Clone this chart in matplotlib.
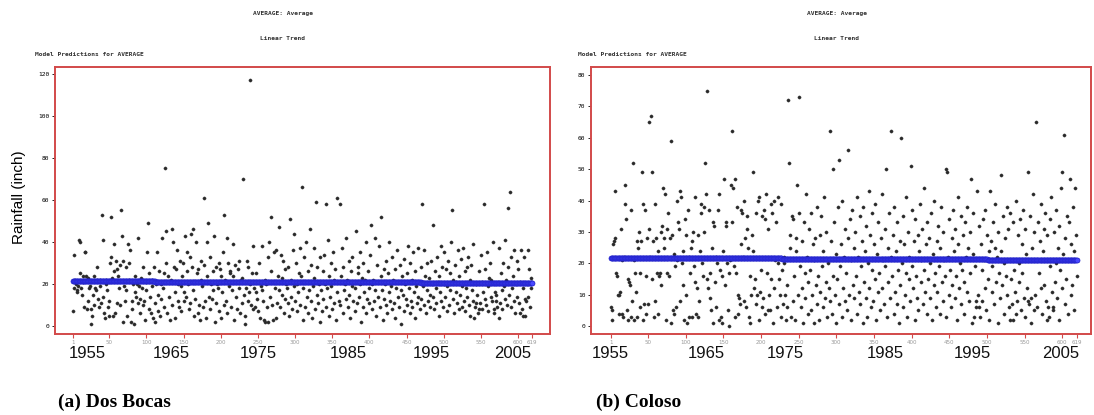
import numpy as np
import matplotlib
matplotlib.use("Agg")
import matplotlib.pyplot as plt
import matplotlib.transforms as mtransforms

# monthly average rainfall, Jan 1955 .. Jul 2006 (619 months)
dos_bocas = [
    7, 18, 34, 22, 20, 17, 16, 19, 41, 40, 25, 18,
    15, 24, 21, 9, 35, 35, 24, 8, 23, 12, 18, 19,
    8, 1, 5, 15, 10, 24, 18, 17, 22, 28, 13, 9,
    19, 22, 11, 53, 41, 14, 6, 4, 20, 22, 17, 9,
    5, 12, 30, 33, 52, 23, 5, 26, 39, 6, 31, 27,
    11, 24, 18, 29, 10, 55, 43, 31, 2, 19, 12, 28,
    17, 5, 39, 22, 30, 36, 2, 8, 12, 20, 1, 24,
    16, 14, 20, 11, 42, 19, 6, 13, 23, 18, 10, 28,
    12, 3, 21, 17, 35, 49, 8, 25, 14, 6, 19, 22,
    4, 28, 11, 2, 20, 35, 7, 15, 26, 5, 13, 20,
    42, 18, 9, 25, 75, 45, 30, 6, 24, 14, 21, 3,
    22, 46, 10, 40, 28, 16, 4, 27, 36, 12, 20, 9,
    31, 19, 7, 24, 30, 16, 12, 43, 14, 26, 35, 20,
    8, 33, 11, 44, 28, 17, 46, 5, 21, 13, 40, 25,
    6, 27, 10, 3, 31, 22, 19, 9, 61, 29, 12, 4,
    40, 24, 49, 14, 8, 33, 20, 13, 26, 17, 43, 2,
    28, 11, 20, 18, 30, 7, 27, 4, 24, 16, 35, 10,
    53, 22, 12, 42, 6, 30, 19, 26, 25, 9, 17, 39,
    24, 3, 29, 14, 21, 8, 27, 31, 18, 6, 22, 11,
    23, 70, 15, 1, 5, 18, 31, 12, 28, 16, 20, 117,
    10, 25, 8, 38, 18, 9, 25, 16, 13, 7, 30, 21,
    4, 19, 17, 38, 12, 3, 22, 2, 20, 9, 33, 2,
    40, 14, 52, 26, 10, 3, 35, 21, 18, 36, 4, 11,
    24, 47, 17, 9, 34, 23, 15, 31, 6, 27, 13, 20,
    18, 11, 28, 5, 51, 14, 22, 8, 36, 19, 44, 12,
    30, 7, 20, 16, 25, 37, 10, 24, 66, 3, 18, 33,
    21, 9, 40, 14, 26, 6, 17, 46, 12, 29, 4, 19,
    23, 37, 8, 59, 15, 28, 11, 20, 2, 33, 17, 7,
    26, 13, 34, 20, 9, 58, 18, 41, 5, 24, 14, 30,
    19, 8, 35, 11, 22, 27, 3, 16, 61, 21, 12, 58,
    10, 24, 37, 6, 28, 17, 20, 13, 42, 22, 9, 31,
    15, 4, 26, 19, 33, 12, 21, 7, 18, 45, 11, 25,
    28, 14, 20, 35, 2, 23, 9, 30, 16, 22, 6, 40,
    13, 26, 11, 18, 34, 48, 8, 20, 22, 12, 42, 17,
    5, 29, 14, 21, 38, 9, 24, 52, 17, 3, 27, 13,
    20, 10, 31, 6, 25, 16, 40, 12, 19, 8, 33, 22,
    11, 27, 4, 18, 36, 14, 21, 9, 29, 17, 1, 24,
    15, 32, 7, 20, 13, 25, 10, 38, 18, 6, 30, 12,
    22, 9, 35, 16, 26, 4, 19, 11, 37, 14, 21, 8,
    28, 13, 58, 19, 10, 36, 24, 6, 17, 30, 12, 23,
    15, 9, 31, 20, 14, 48, 8, 26, 18, 11, 33, 21,
    5, 24, 16, 38, 12, 28, 9, 20, 35, 14, 27, 7,
    19, 31, 10, 25, 17, 40, 55, 13, 22, 6, 29, 16,
    21, 11, 36, 8, 24, 15, 32, 9, 19, 37, 12, 26,
    7, 18, 28, 14, 33, 10, 22, 5, 29, 17, 39, 12,
    4, 9, 20, 11, 15, 6, 26, 8, 11, 34, 21, 8,
    16, 58, 13, 27, 10, 35, 19, 7, 23, 30, 14, 22,
    12, 40, 8, 6, 16, 15, 12, 9, 21, 4, 37, 11,
    25, 17, 8, 30, 19, 41, 13, 22, 10, 56, 28, 15,
    64, 9, 33, 18, 24, 12, 36, 6, 20, 31, 14, 27,
    11, 21, 6, 36, 8, 5, 18, 33, 13, 5, 12, 20,
    36, 14, 27, 9, 23, 18, 21,
]

coloso = [
    6, 2, 5, 26, 27, 43, 28, 17, 16, 10, 10, 4,
    11, 31, 21, 4, 3, 22, 45, 39, 34, 5, 2, 15,
    14, 13, 3, 37, 8, 52, 21, 2, 17, 11, 3, 27,
    25, 30, 17, 6, 27, 49, 39, 2, 7, 37, 16, 4,
    28, 7, 31, 65, 22, 67, 15, 49, 27, 3, 8, 39,
    28, 17, 4, 24, 16, 17, 30, 13, 32, 44, 25, 28,
    42, 2, 31, 17, 36, 16, 28, 1, 59, 29, 5, 23,
    4, 19, 6, 40, 21, 33, 31, 8, 43, 41, 20, 24,
    13, 2, 34, 10, 29, 1, 37, 22, 3, 17, 25, 27,
    3, 30, 19, 41, 14, 4, 12, 29, 3, 8, 24, 39,
    36, 20, 16, 30, 38, 52, 42, 75, 15, 12, 37, 17,
    9, 5, 25, 1, 33, 32, 14, 6, 22, 20, 37, 2,
    42, 18, 3, 1, 16, 24, 47, 13, 32, 33, 20, 5,
    17, 0, 21, 45, 33, 62, 44, 19, 47, 3, 17, 38,
    10, 4, 9, 7, 26, 37, 36, 22, 8, 40, 28, 6,
    35, 31, 25, 3, 16, 1, 10, 29, 24, 49, 12, 15,
    7, 36, 10, 40, 2, 41, 11, 18, 6, 35, 9, 37,
    4, 34, 42, 17, 5, 31, 10, 5, 39, 15, 36, 1,
    12, 40, 21, 33, 6, 41, 20, 15, 10, 3, 39, 18,
    7, 22, 20, 10, 2, 13, 6, 72, 52, 29, 25, 3,
    35, 8, 34, 16, 2, 28, 24, 45, 10, 73, 36, 19,
    6, 27, 12, 1, 33, 17, 9, 42, 22, 4, 14, 31,
    18, 5, 36, 10, 26, 1, 21, 28, 13, 7, 38, 16,
    2, 29, 11, 35, 19, 6, 24, 41, 9, 14, 30, 3,
    20, 12, 8, 62, 27, 4, 16, 50, 33, 10, 23, 1,
    15, 38, 7, 53, 19, 26, 3, 40, 12, 22, 8, 31,
    17, 5, 28, 56, 10, 34, 21, 2, 37, 13, 25, 9,
    30, 16, 4, 41, 22, 11, 35, 7, 19, 27, 1, 38,
    14, 24, 9, 32, 3, 20, 43, 12, 29, 6, 36, 18,
    8, 26, 15, 39, 2, 23, 11, 33, 17, 5, 28, 42,
    12, 21, 7, 31, 19, 50, 3, 25, 14, 36, 9, 22,
    62, 16, 29, 4, 38, 11, 24, 7, 33, 18, 1, 27,
    13, 60, 20, 35, 6, 26, 10, 41, 17, 3, 30, 15,
    22, 8, 51, 19, 37, 12, 27, 2, 34, 16, 9, 29,
    5, 24, 39, 14, 21, 31, 7, 18, 44, 11, 26, 4,
    33, 15, 28, 9, 20, 36, 2, 23, 13, 40, 17, 6,
    27, 11, 32, 19, 4, 25, 38, 14, 8, 30, 21, 16,
    3, 50, 49, 22, 10, 34, 18, 6, 28, 13, 37, 24,
    9, 31, 16, 2, 26, 41, 12, 20, 7, 35, 18, 29,
    14, 4, 33, 22, 11, 38, 25, 8, 30, 17, 47, 1,
    23, 36, 3, 19, 6, 8, 43, 10, 32, 6, 3, 26,
    18, 8, 34, 21, 12, 37, 5, 29, 15, 24, 2, 43,
    27, 11, 19, 33, 7, 25, 39, 14, 22, 1, 30, 17,
    9, 48, 24, 13, 35, 20, 4, 28, 16, 38, 10, 31,
    6, 2, 36, 15, 7, 2, 33, 18, 11, 40, 4, 8,
    29, 14, 20, 34, 5, 26, 17, 37, 9, 31, 3, 23,
    12, 49, 8, 7, 35, 9, 1, 25, 42, 5, 30, 10,
    65, 21, 6, 33, 17, 27, 12, 39, 4, 24, 31, 13,
    36, 8, 2, 29, 6, 3, 34, 19, 41, 11, 6, 5,
    30, 14, 37, 20, 9, 25, 2, 32, 18, 44, 12, 49,
    23, 61, 7, 28, 15, 35, 4, 21, 33, 47, 10, 26,
    13, 38, 24, 5, 44, 29, 16,
]

xticks = [1, 50, 100, 150, 200, 250, 300, 350, 400, 450, 500, 550, 600, 619]
years = ["1955", "1965", "1975", "1985", "1995", "2005"]
year_pos_a = [20, 133, 251, 372, 484, 593]
year_pos_b = [0, 127, 233, 365, 480, 598]

RED = "#d24a4a"


def panel(fig, rect, values, yticks, ylim, xlim, year_pos, caption, cap_x, title_x, note_x):
    ax = fig.add_axes(rect)
    idx = np.arange(1, len(values) + 1)
    vals = np.array(values, dtype=float)
    ax.plot(idx, vals, "o", ms=2.3, color="#2a2a2a", mec="#333333", mew=0.3)
    slope, icpt = np.polyfit(idx, vals, 1)
    ax.plot(idx, icpt + slope * idx, "o", ms=3.6, mfc="#4848ff", mec="#2020c8", mew=0.5)
    ax.set_xlim(xlim)
    ax.set_ylim(ylim)
    for s in ax.spines.values():
        s.set_color(RED)
        s.set_linewidth(1.4)
    ax.set_yticks(yticks)
    ax.set_yticklabels([str(t) for t in yticks], fontsize=4.5, family="DejaVu Sans Mono")
    ax.set_xticks(xticks)
    ax.set_xticklabels([str(t) for t in xticks], fontsize=4, color="#999999")
    ax.tick_params(axis="y", length=2.5, width=0.6, pad=1.5)
    ax.tick_params(axis="x", length=3, width=0.8, color=RED, pad=1)
    trans = mtransforms.blended_transform_factory(ax.transData, fig.transFigure)
    for yr, p in zip(years, year_pos):
        ax.text(p, 1 - 353 / 415, yr, transform=trans, ha="center", va="center",
                fontsize=12, family="Liberation Sans", color="#111111")
    fig.text(cap_x / 1094, 1 - 402 / 415, caption, ha="left", va="center",
             fontsize=14, family="Liberation Serif", weight="bold")
    fig.text(title_x / 1094, 1 - 14 / 415, "AVERAGE: Average", ha="center", va="center",
             fontsize=4.5, family="DejaVu Sans Mono", weight="bold", color="#333333")
    fig.text(title_x / 1094, 1 - 38 / 415, "Linear Trend", ha="center", va="center",
             fontsize=4.5, family="DejaVu Sans Mono", weight="bold", color="#333333")
    fig.text(note_x / 1094, 1 - 54 / 415, "Model Predictions for AVERAGE", ha="left", va="center",
             fontsize=4.5, family="DejaVu Sans Mono", weight="bold", color="#333333")
    return ax


fig = plt.figure(figsize=(10.94, 4.15), dpi=100)
fig.patch.set_facecolor("white")

panel(fig, [55 / 1094, 1 - 334 / 415, 495 / 1094, 267 / 415], dos_bocas,
      [0, 20, 40, 60, 80, 100, 120], (-3.8, 123.3), (-23, 643), year_pos_a,
      "(a) Dos Bocas", 58, 283, 35)
panel(fig, [591 / 1094, 1 - 334 / 415, 500 / 1094, 267 / 415], coloso,
      [0, 10, 20, 30, 40, 50, 60, 70, 80], (-2.5, 82.5), (-25.5, 638), year_pos_b,
      "(b) Coloso", 596, 837, 578)

fig.text(19 / 1094, 1 - 197 / 415, "Rainfall (inch)", rotation=90, ha="center", va="center",
         fontsize=11, family="Liberation Sans")

fig.savefig("out.png", dpi=100)
